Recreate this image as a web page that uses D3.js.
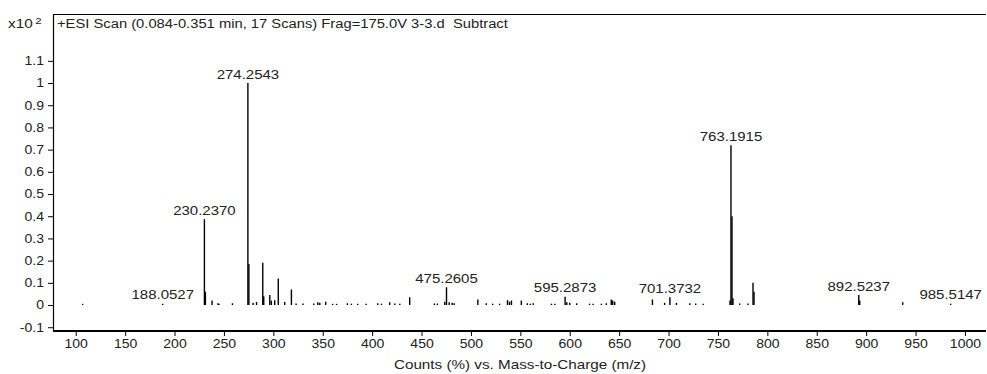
<!DOCTYPE html>
<html><head><meta charset="utf-8">
<script src="https://cdn.jsdelivr.net/npm/d3@7"></script>
<style>
body{margin:0;background:#fff;}
svg{display:block;font-family:"Liberation Sans",Arial,sans-serif;}
text{fill:#222;}
</style></head>
<body><svg id="c" width="987" height="374"></svg>
<script>
const mz = [107.0,188.05,230.24,231.24,238.0,244.0,245.0,258.6,274.25,275.26,279.5,283.0,289.3,290.3,296.4,298.0,301.4,305.0,311.5,318.3,323.0,330.0,341.0,345.0,347.0,353.0,360.0,364.0,375.0,379.0,385.4,394.0,405.7,409.4,417.8,423.0,428.0,438.0,463.0,466.0,473.5,475.26,478.0,481.0,483.0,507.0,515.5,522.0,529.0,537.0,539.0,541.0,551.0,557.0,560.0,563.0,581.5,585.0,595.29,597.0,600.0,607.0,620.0,623.6,632.0,637.0,642.0,643.5,645.5,683.7,696.0,701.37,708.0,721.5,727.5,735.0,762.2,763.19,764.2,765.2,772.0,780.5,785.5,786.5,892.52,893.5,937.0,985.51];
const intensity = [0.005,0.006,0.387,0.06,0.02,0.008,0.006,0.008,1.0,0.185,0.01,0.014,0.19,0.04,0.045,0.02,0.022,0.12,0.014,0.07,0.007,0.007,0.007,0.012,0.01,0.015,0.005,0.005,0.008,0.006,0.006,0.006,0.008,0.006,0.012,0.007,0.006,0.035,0.007,0.007,0.015,0.08,0.012,0.01,0.008,0.025,0.008,0.006,0.006,0.022,0.015,0.02,0.02,0.008,0.006,0.008,0.006,0.006,0.037,0.012,0.01,0.008,0.006,0.006,0.006,0.008,0.025,0.02,0.015,0.025,0.01,0.035,0.01,0.008,0.007,0.006,0.02,0.72,0.40,0.03,0.007,0.007,0.10,0.06,0.045,0.02,0.012,0.006];
const labelMz = [188.0527,230.2370,274.2543,475.2605,595.2873,701.3732,763.1915,892.5237,985.5147];
const labelIntensity = [0.006,0.387,1.0,0.08,0.037,0.035,0.72,0.045,0.006];
const xTicks = [100,150,200,250,300,350,400,450,500,550,600,650,700,750,800,850,900,950,1000];
const yTicks = [-0.1,0,0.1,0.2,0.3,0.4,0.5,0.6,0.7,0.8,0.9,1,1.1];
const titleText = "+ESI Scan (0.084-0.351 min, 17 Scans) Frag=175.0V 3-3.d  Subtract";
const xTitle = "Counts (%) vs. Mass-to-Charge (m/z)";

const svg = d3.select("#c");
const L = 53, R = 986, T = 14, B = 331;
const x = d3.scaleLinear().domain([77, 1021.3]).range([L, R]);
const y = d3.scaleLinear().domain([-0.117, 1.311]).range([B, T]);
const FONT = "Liberation Sans, Arial, sans-serif";

// frame
svg.append("line").attr("x1",L).attr("x2",R).attr("y1",T+0.5).attr("y2",T+0.5).attr("stroke","#000").attr("stroke-width",1);
svg.append("line").attr("x1",L+0.5).attr("x2",L+0.5).attr("y1",T).attr("y2",B).attr("stroke","#000").attr("stroke-width",1.2);

// axes
const sxTick = 1.17;
const xa = svg.append("g").attr("transform",`translate(0,${B})`)
  .call(d3.axisBottom(x).tickValues(xTicks).tickSize(5).tickSizeOuter(0).tickPadding(3).tickFormat(d3.format("d")));
xa.select(".domain").attr("stroke","#000").attr("stroke-width",2).attr("d",`M${L},0H${R}`);
xa.selectAll("text").attr("font-size",12).attr("fill","#222").attr("font-family",FONT)
  .attr("transform",`scale(${sxTick},1)`);

const ya = svg.append("g").attr("transform",`translate(${L},0)`)
  .call(d3.axisLeft(y).tickValues(yTicks).tickSize(5).tickPadding(4).tickFormat(d => String(+d.toFixed(1))));
ya.select(".domain").remove();
ya.selectAll("text").attr("font-size",12).attr("fill","#222").attr("font-family",FONT)
  .attr("x",-9/sxTick).attr("transform",`scale(${sxTick},1)`);

// peaks
svg.append("g").selectAll("line").data(mz).join("line")
  .attr("x1",(d)=>x(d)).attr("x2",(d)=>x(d))
  .attr("y1",y(0)).attr("y2",(d,i)=>Math.min(y(0)-1.2, y(intensity[i])))
  .attr("stroke","#000").attr("stroke-width",1.4);

// labels
svg.append("g").selectAll("text").data(labelMz).join("text")
  .attr("transform",(d,i)=>`translate(${x(d)},${y(labelIntensity[i])-4.5}) scale(1.25,1)`)
  .attr("text-anchor","middle").attr("font-size",12)
  .text(d=>d.toFixed(4));

// header
const h = svg.append("text").attr("transform","translate(8,28) scale(1.28,1)").attr("font-size",12);
h.append("tspan").text("x10");
h.append("tspan").attr("dx",2).attr("dy",-4).attr("font-size",9).text("2");
svg.append("text").attr("transform","translate(57,28) scale(1.23,1)").attr("font-size",12)
  .attr("xml:space","preserve").style("white-space","pre").text(titleText);

svg.append("text").attr("transform","translate(520,368.5) scale(1.27,1)").attr("text-anchor","middle").attr("font-size",12).text(xTitle);
</script></body></html>
